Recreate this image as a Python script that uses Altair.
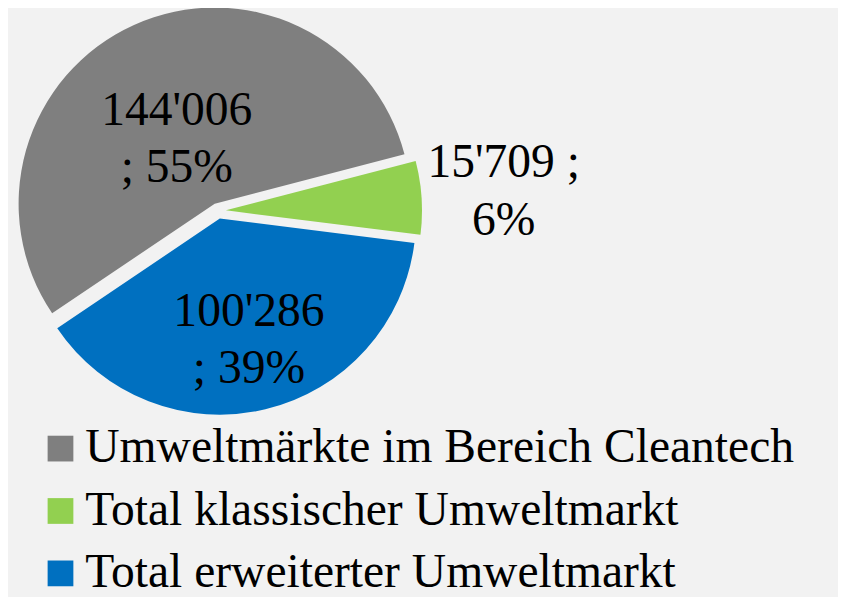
import math
import altair as alt
import pandas as pd

categories = ["Umweltmärkte im Bereich Cleantech", "Total klassischer Umweltmarkt", "Total erweiterter Umweltmarkt"]
values = [144006, 15709, 100286]
colors = ["#7f7f7f", "#92d050", "#0070c0"]

total = sum(values)


def fmt(v):
    return f"{v:,}".replace(",", "'")


labels = []
for v in values:
    p = round(v / total * 100)
    if v / total < 0.1:
        labels.append(f"{fmt(v)} ;\n{p}%")
    else:
        labels.append(f"{fmt(v)}\n; {p}%")

df = pd.DataFrame({"cat": categories, "value": values, "label": labels, "idx": list(range(len(values)))})

START = math.radians(236)
CX, CY, R = 212, 202, 198
EXPLODE = 8 / R
FONT = "Liberation Serif"

xscale = alt.Scale(domain=[-1, 1], range=[CX - R, CX + R])
yscale = alt.Scale(domain=[-1, 1], range=[CY + R, CY - R])

base = (
    alt.Chart(df)
    .transform_stack(stack="value", groupby=[], as_=["st", "en"], sort=[alt.SortField("idx")])
    .transform_joinaggregate(total="sum(value)")
    .transform_calculate(
        share="datum.value / datum.total",
        mid=f"{START} + PI * (datum.st + datum.en) / datum.total",
    )
    .transform_calculate(
        ox=f"{EXPLODE} * sin(datum.mid)",
        oy=f"{EXPLODE} * cos(datum.mid)",
        lf="datum.share > 0.5 ? 0.42 : (datum.share < 0.1 ? 1.46 : 0.68)",
        la="datum.share > 0.5 ? -0.1 : 0",
    )
    .transform_calculate(
        lx="datum.lf * sin(datum.mid + datum.la)",
        ly="datum.lf * cos(datum.mid + datum.la)",
    )
)

arcs = base.mark_arc(outerRadius=R).encode(
    theta=alt.Theta("st:Q", scale=alt.Scale(domain=[0, total], range=[START, START + 2 * math.pi]), stack=None),
    theta2="en:Q",
    x=alt.X("ox:Q", scale=xscale, axis=None),
    y=alt.Y("oy:Q", scale=yscale, axis=None),
    color=alt.Color(
        "cat:N",
        scale=alt.Scale(domain=categories, range=colors),
        sort=categories,
        legend=alt.Legend(
            title=None,
            orient="none",
            legendX=29,
            legendY=418,
            direction="vertical",
            symbolType="square",
            symbolSize=676,
            symbolStrokeWidth=0,
            labelFont=FONT,
            labelFontSize=48,
            labelColor="black",
            labelOffset=1,
            rowPadding=15,
            labelLimit=900,
        ),
    ),
)

texts = base.mark_text(
    font=FONT, fontSize=48, lineBreak="\n", lineHeight=58, align="center", baseline="middle", dy=-29, color="black"
).encode(
    x=alt.X("lx:Q", scale=xscale, axis=None),
    y=alt.Y("ly:Q", scale=yscale, axis=None),
    text="label:N",
)

chart = (
    alt.layer(arcs, texts)
    .properties(width=838, height=589, autosize=alt.AutoSizeParams(type="none"), padding=0)
    .configure(background="#f2f2f2")
    .configure_view(stroke=None)
)

chart.save("out.html", embed_options={"renderer": "svg", "actions": False})
